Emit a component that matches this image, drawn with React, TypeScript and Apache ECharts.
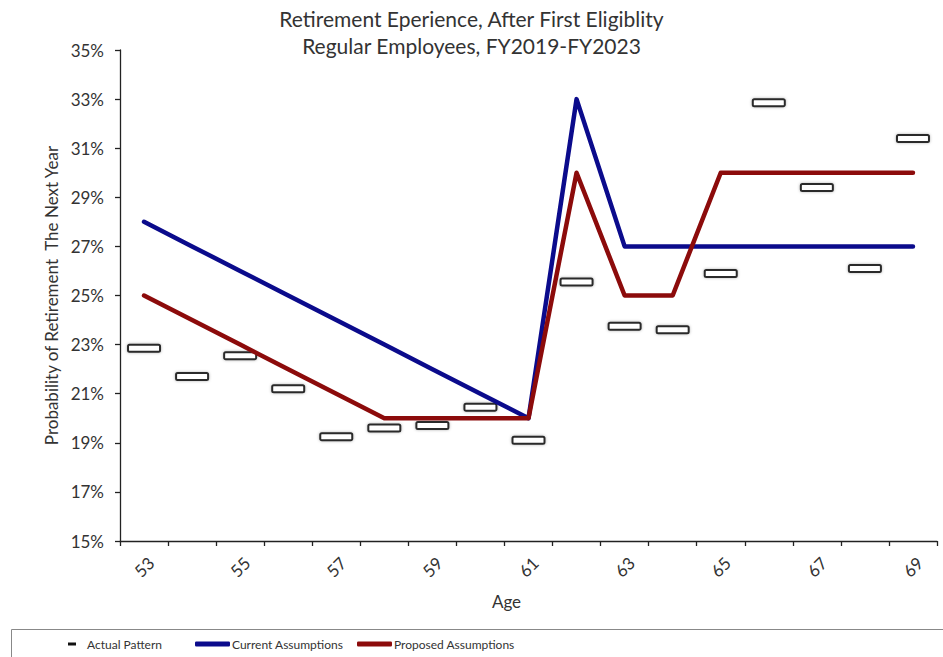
import React, { useEffect, useRef } from "react";
import * as echarts from "echarts";

// Ages on the horizontal axis
const ages: string[] = [
  "53", "54", "55", "56", "57", "58", "59", "60", "61",
  "62", "63", "64", "65", "66", "67", "68", "69",
];

// Observed retirement rates (percent)
const actualPattern: number[] = [
  22.85, 21.7, 22.55, 21.2, 19.25, 19.6, 19.7, 20.45, 19.1,
  25.55, 23.75, 23.6, 25.9, 32.85, 29.4, 26.1, 31.4,
];

// Current assumption rates (percent)
const currentAssumptions: number[] = [
  28, 27, 26, 25, 24, 23, 22, 21, 20,
  33, 27, 27, 27, 27, 27, 27, 27,
];

// Proposed assumption rates (percent)
const proposedAssumptions: number[] = [
  25, 24, 23, 22, 21, 20, 20, 20, 20,
  30, 25, 25, 30, 30, 30, 30, 30,
];

const FONT = "Lato, 'Open Sans', sans-serif";
const TEXT = "#333";
const BLUE = "#0b0b8c";
const RED = "#8c0b0b";

// Flat dash marker for each observed rate, placed through the axes' scales
const renderDash = (params: any, api: any) => {
  const pt = api.coord([api.value(0), api.value(1)]);
  const w = 32;
  const h = 7;
  return {
    type: "rect",
    shape: { x: pt[0] - w / 2, y: pt[1] - h / 2, width: w, height: h, r: 1.5 },
    style: {
      fill: "#fff",
      stroke: "#2a2a2a",
      lineWidth: 2,
      shadowBlur: 3,
      shadowColor: "rgba(0,0,0,0.3)",
    },
  };
};

export default function App() {
  const ref = useRef<HTMLDivElement>(null);

  useEffect(() => {
    if (!ref.current) return;
    const chart = echarts.init(ref.current, null, { renderer: "svg" });
    const legendText = { fontFamily: FONT, fontSize: 12, color: TEXT };
    chart.setOption({
      animation: false,
      backgroundColor: "#fff",
      textStyle: { fontFamily: FONT },
      title: {
        text: "Retirement Eperience, After First Eligiblity\nRegular Employees, FY2019-FY2023",
        left: "center",
        top: 0,
        textStyle: {
          fontFamily: FONT,
          fontSize: 21,
          fontWeight: "normal",
          color: TEXT,
          lineHeight: 27,
        },
      },
      grid: {
        left: 120,
        right: 6,
        top: 50,
        bottom: 116,
        outerBoundsMode: "none",
      },
      xAxis: {
        type: "category",
        data: ages,
        boundaryGap: true,
        name: "Age",
        nameLocation: "middle",
        nameGap: 52,
        nameTextStyle: {
          fontFamily: FONT,
          fontSize: 17,
          color: TEXT,
          padding: [0, 44, 0, 0],
        },
        axisLine: { lineStyle: { color: "#222", width: 1.3 } },
        axisTick: {
          show: true,
          interval: 0,
          length: 5,
          alignWithLabel: false,
          lineStyle: { color: "#222", width: 1.3 },
        },
        axisLabel: {
          interval: 1,
          rotate: 45,
          align: "center",
          verticalAlign: "middle",
          margin: 26,
          fontFamily: FONT,
          fontSize: 17,
          color: TEXT,
        },
        splitLine: { show: false },
      },
      yAxis: {
        type: "value",
        min: 15,
        max: 35,
        interval: 2,
        name: "Probability of Retirement  The Next Year",
        nameLocation: "middle",
        nameGap: 58,
        nameRotate: 90,
        nameTextStyle: { fontFamily: FONT, fontSize: 17, color: TEXT },
        axisLine: { show: true, lineStyle: { color: "#222", width: 1.3 } },
        axisTick: { show: true, length: 5, lineStyle: { color: "#222", width: 1.3 } },
        axisLabel: {
          formatter: "{value}%",
          margin: 16,
          fontFamily: FONT,
          fontSize: 17,
          color: TEXT,
        },
        splitLine: { show: false },
      },
      legend: [
        {
          left: 68,
          top: 638,
          padding: 0,
          itemWidth: 8,
          itemHeight: 3,
          textStyle: { ...legendText, padding: [0, 0, 0, 6] },
          data: [
            {
              name: "Actual Pattern",
              icon: "rect",
              itemStyle: { color: "#111", borderWidth: 0, shadowBlur: 0 },
            },
          ],
        },
        {
          left: 195,
          top: 638,
          padding: 0,
          itemWidth: 35,
          itemHeight: 5,
          textStyle: { ...legendText, padding: [0, 0, 0, -3] },
          data: [{ name: "Current Assumptions", icon: "roundRect" }],
        },
        {
          left: 357,
          top: 638,
          padding: 0,
          itemWidth: 35,
          itemHeight: 5,
          textStyle: { ...legendText, padding: [0, 0, 0, -3] },
          data: [{ name: "Proposed Assumptions", icon: "roundRect" }],
        },
      ],
      graphic: [
        {
          type: "rect",
          left: 9,
          top: 627,
          shape: { width: 960, height: 60 },
          style: { fill: "none", stroke: "#888", lineWidth: 1 },
          silent: true,
        },
      ],
      series: [
        {
          name: "Actual Pattern",
          type: "custom",
          renderItem: renderDash,
          data: actualPattern.map((v, i) => [i, v]),
          encode: { x: 0, y: 1 },
          itemStyle: { color: "#111" },
          z: 2,
        },
        {
          name: "Current Assumptions",
          type: "line",
          data: currentAssumptions,
          showSymbol: false,
          symbol: "none",
          color: BLUE,
          lineStyle: { color: BLUE, width: 4.5, cap: "round", join: "round" },
          z: 3,
        },
        {
          name: "Proposed Assumptions",
          type: "line",
          data: proposedAssumptions,
          showSymbol: false,
          symbol: "none",
          color: RED,
          lineStyle: { color: RED, width: 4.5, cap: "round", join: "round" },
          z: 4,
        },
      ],
    });
    return () => chart.dispose();
  }, []);

  return (
    <div
      ref={ref}
      style={{ position: "absolute", left: 0, top: 0, width: 943, height: 657 }}
    />
  );
}
